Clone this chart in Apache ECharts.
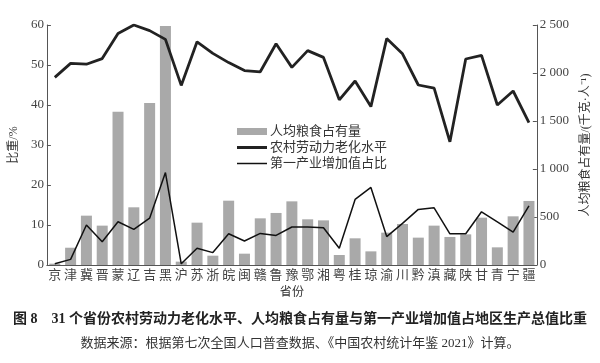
<!DOCTYPE html>
<html>
<head>
<meta charset="utf-8">
<script src="https://cdn.jsdelivr.net/npm/echarts@6/dist/echarts.min.js"></script>
<style>
html,body{margin:0;padding:0;background:#fff;}
#main{width:600px;height:363px;}
</style>
</head>
<body>
<div id="main"></div>
<script>
var provinces = ['京','津','冀','晋','蒙','辽','吉','黑','沪','苏','浙','皖','闽','赣','鲁','豫','鄂','湘','粤','桂','琼','渝','川','黔','滇','藏','陕','甘','青','宁','疆'];
var grainPerCapita = [14, 180, 514, 410, 1597, 601, 1688, 2490, 35, 441, 97, 670, 118, 486, 542, 663, 476, 465, 104, 278, 142, 337, 427, 285, 410, 292, 319, 493, 184, 507, 667];
var agingLevel = [46.9, 50.4, 50.2, 51.6, 57.9, 60.0, 58.6, 56.4, 44.9, 55.8, 52.9, 50.6, 48.6, 48.3, 55.3, 49.4, 53.6, 51.9, 41.3, 46.0, 39.6, 56.6, 52.8, 45.0, 44.2, 30.8, 51.5, 52.4, 40.0, 43.5, 35.6];
var primaryShare = [0.3, 1.4, 10.0, 5.8, 10.8, 8.9, 11.7, 23.1, 0.3, 4.2, 3.1, 7.8, 6.0, 7.9, 7.4, 9.5, 9.5, 9.3, 4.2, 16.4, 19.4, 7.1, 10.4, 13.9, 14.3, 7.8, 7.8, 13.3, 10.8, 8.2, 14.8];
var leftTicks = {min: 0, max: 60, interval: 10};
var rightTicks = {min: 0, max: 2500, interval: 500};
var seriesNames = ['人均粮食占有量', '农村劳动力老化水平', '第一产业增加值占比'];
var titleText = '图 8　31 个省份农村劳动力老化水平、人均粮食占有量与第一产业增加值占地区生产总值比重';
var subText = '数据来源：根据第七次全国人口普查数据、《中国农村统计年鉴 2021》计算。';

var FF = '"Liberation Serif","Noto Sans CJK SC",serif';
var chart = echarts.init(document.getElementById('main'), null, {renderer: 'canvas'});
chart.setOption({
  backgroundColor: '#fff',
  animation: false,
  title: [{
    text: titleText,
    left: 'center',
    top: 307,
    textStyle: {fontFamily: FF, fontSize: 14, fontWeight: 'bold', color: '#222'}
  }, {
    text: subText,
    left: 'center',
    top: 332,
    textStyle: {fontFamily: FF, fontSize: 13, fontWeight: 'normal', color: '#333'}
  }],
  legend: {
    orient: 'vertical',
    left: 232,
    top: 120,
    itemWidth: 30,
    itemHeight: 7,
    itemGap: 3,
    symbolKeepAspect: true,
    data: [
      {name: seriesNames[0], icon: 'rect'},
      {name: seriesNames[1], icon: 'path://M0,0 H30 V3 H0 Z'},
      {name: seriesNames[2], icon: 'path://M0,0 H30 V1.5 H0 Z'}
    ],
    textStyle: {fontFamily: FF, fontSize: 13, color: '#333', padding: [0, 0, 0, -2]}
  },
  grid: {left: 46, right: 60, top: 25, bottom: 98, containLabel: false},
  xAxis: {
    type: 'category',
    data: provinces,
    name: '省份',
    nameLocation: 'middle',
    nameGap: 21,
    nameTextStyle: {fontFamily: FF, fontSize: 12, color: '#333'},
    axisLine: {show: true, lineStyle: {color: '#555', width: 1}},
    axisTick: {show: false},
    axisLabel: {fontFamily: FF, fontSize: 13, color: '#444', margin: 4, interval: 0}
  },
  yAxis: [{
    type: 'value',
    position: 'left',
    min: leftTicks.min, max: leftTicks.max, interval: leftTicks.interval,
    name: '比重/%',
    nameLocation: 'middle',
    nameRotate: 90,
    nameGap: 18,
    nameTextStyle: {fontFamily: FF, fontSize: 12, color: '#333'},
    axisLine: {show: true, lineStyle: {color: '#555', width: 1}},
    axisTick: {show: true, inside: true, length: 4, lineStyle: {color: '#555'}},
    axisLabel: {fontFamily: FF, fontSize: 13, color: '#444', margin: 3},
    splitLine: {show: false}
  }, {
    type: 'value',
    position: 'right',
    min: rightTicks.min, max: rightTicks.max, interval: rightTicks.interval,
    name: '人均粮食占有量/(千克·人⁻¹)',
    nameLocation: 'middle',
    nameRotate: 90,
    nameGap: 34,
    nameTextStyle: {fontFamily: FF, fontSize: 12, color: '#333'},
    axisLine: {show: true, lineStyle: {color: '#555', width: 1}},
    axisTick: {show: true, inside: true, length: 4, lineStyle: {color: '#555'}},
    axisLabel: {
      fontFamily: FF, fontSize: 13, color: '#444', margin: 3,
      formatter: function (v) {
        var s = String(v);
        return s.length > 3 ? s.slice(0, s.length - 3) + ' ' + s.slice(-3) : s;
      }
    },
    splitLine: {show: false}
  }],
  series: [{
    name: seriesNames[0],
    type: 'bar',
    yAxisIndex: 1,
    data: grainPerCapita,
    barWidth: 11,
    itemStyle: {color: '#a9a9a9'},
    z: 1
  }, {
    name: seriesNames[1],
    type: 'line',
    yAxisIndex: 0,
    data: agingLevel,
    symbol: 'none',
    lineStyle: {color: '#222', width: 2.8},
    itemStyle: {color: '#222'},
    z: 3
  }, {
    name: seriesNames[2],
    type: 'line',
    yAxisIndex: 0,
    data: primaryShare,
    symbol: 'none',
    lineStyle: {color: '#111', width: 1.5},
    itemStyle: {color: '#111'},
    z: 2
  }]
});
</script>
</body>
</html>
